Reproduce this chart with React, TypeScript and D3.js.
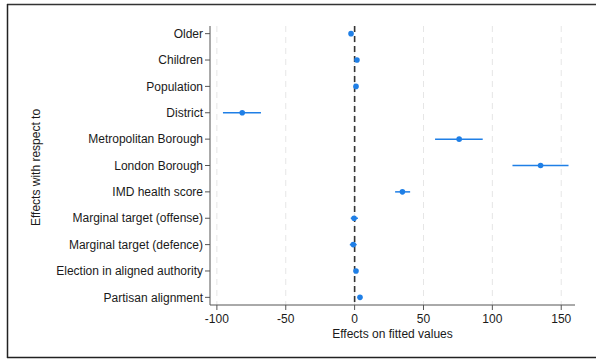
import React from "react";
import * as d3 from "d3";

const categories = [
  "Older",
  "Children",
  "Population",
  "District",
  "Metropolitan Borough",
  "London Borough",
  "IMD health score",
  "Marginal target (offense)",
  "Marginal target (defence)",
  "Election in aligned authority",
  "Partisan alignment",
];
const estimates = [-2.6, 1.7, 1.0, -81.6, 75.9, 135.0, 34.7, -0.4, -1.0, 1.0, 3.9];
const lower = [-3.2, 1.2, 0.5, -95.6, 58.4, 114.6, 29.4, -2.8, -3.5, 0.5, 3.4];
const upper = [-2.0, 2.2, 1.5, -68.0, 93.0, 155.3, 40.3, 2.4, 1.5, 1.5, 4.4];
const xTicks = [-100, -50, 0, 50, 100, 150];

const W = 596;
const H = 360;
const left = 210;
const right = 575;
const top = 26;
const bottom = 305;
const blue = "#1f7fe6";
const font = "'Liberation Sans', Arial, sans-serif";

export default function App() {
  const x = d3.scaleLinear().domain([-105, 160]).range([left, right]);
  const y = d3.scalePoint<string>().domain(categories).range([top, bottom]).padding(0.29);

  return (
    <svg width={W} height={H} style={{ position: "absolute", left: 0, top: 0 }} fontFamily={font}>
      <rect x={0} y={0} width={W} height={H} fill="#fff" />
      <line x1={7} x2={W} y1={4.5} y2={4.5} stroke="#333" strokeWidth={1.5} />
      <line x1={7.5} x2={7.5} y1={4} y2={358} stroke="#222" strokeWidth={1.5} />
      <line x1={7} x2={W} y1={357.5} y2={357.5} stroke="#222" strokeWidth={1.5} />
      {xTicks.map((t) => (
        <line key={"g" + t} x1={x(t)} x2={x(t)} y1={top} y2={bottom} stroke="#e6e6e6" strokeWidth={1} strokeDasharray="6,5" />
      ))}
      <line x1={x(0)} x2={x(0)} y1={top} y2={bottom} stroke="#333" strokeWidth={1.6} strokeDasharray="6,4" />
      <line x1={left} x2={left} y1={top} y2={bottom} stroke="#555" strokeWidth={1} />
      <line x1={left} x2={right} y1={bottom} y2={bottom} stroke="#555" strokeWidth={1} />
      {categories.map((c) => (
        <g key={c}>
          <line x1={left - 5} x2={left} y1={y(c)} y2={y(c)} stroke="#555" />
          <text x={left - 7} y={y(c)!} dy="0.35em" textAnchor="end" fontSize={12} fill="#1a1a1a">
            {c}
          </text>
        </g>
      ))}
      {xTicks.map((t) => (
        <g key={"t" + t}>
          <line x1={x(t)} x2={x(t)} y1={bottom} y2={bottom + 5} stroke="#555" />
          <text x={x(t)} y={bottom + 18} textAnchor="middle" fontSize={12} fill="#1a1a1a">
            {t}
          </text>
        </g>
      ))}
      <text x={(left + right) / 2} y={bottom + 33} textAnchor="middle" fontSize={12} fill="#1a1a1a">
        Effects on fitted values
      </text>
      <text transform={`translate(40, ${(top + bottom) / 2 + 2}) rotate(-90)`} textAnchor="middle" fontSize={12} fill="#1a1a1a">
        Effects with respect to
      </text>
      {categories.map((c, i) => (
        <g key={"m" + c}>
          <line x1={x(lower[i])} x2={x(upper[i])} y1={y(c)} y2={y(c)} stroke={blue} strokeWidth={1.5} />
          <circle cx={x(estimates[i])} cy={y(c)} r={2.8} fill={blue} />
        </g>
      ))}
    </svg>
  );
}
